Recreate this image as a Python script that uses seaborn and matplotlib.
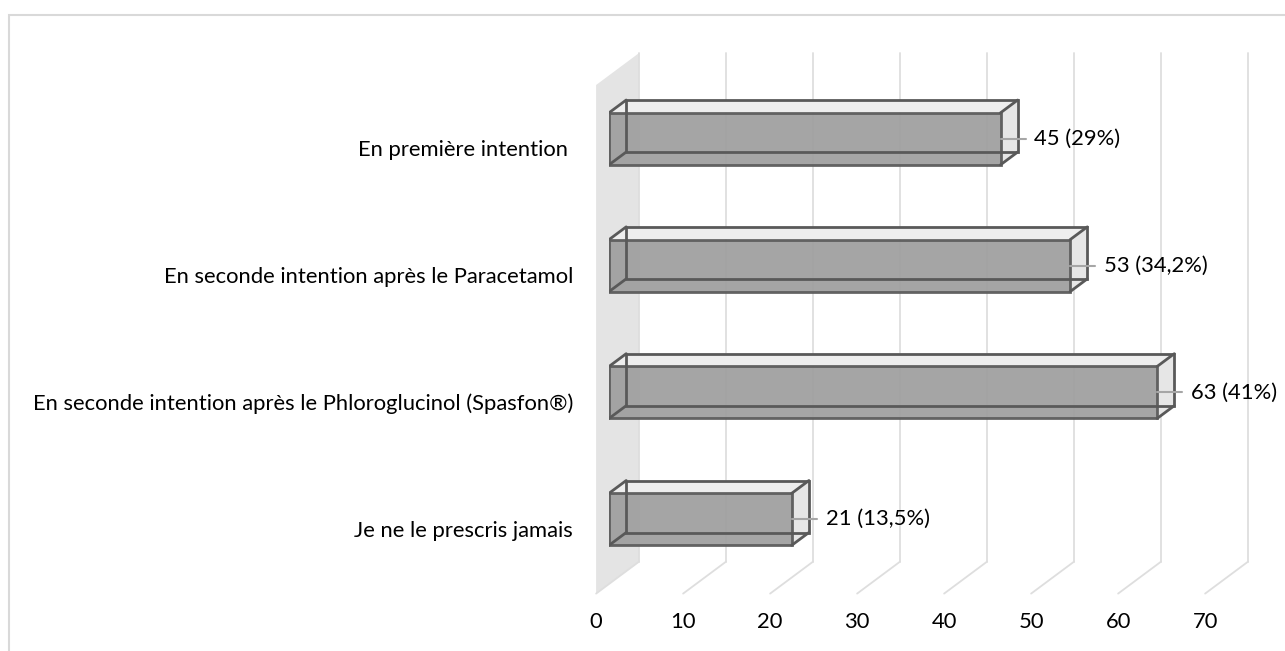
import matplotlib
matplotlib.use("Agg")
import matplotlib.pyplot as plt
import seaborn as sns
import pandas as pd
from matplotlib.patches import Polygon, Rectangle
from matplotlib.transforms import ScaledTranslation

# ---- Data ----
categories = [
    "En première intention ",
    "En seconde intention après le Paracetamol",
    "En seconde intention après le Phloroglucinol (Spasfon®)",
    "Je ne le prescris jamais",
]
counts = [45, 53, 63, 21]
percents = ["29%", "34,2%", "41%", "13,5%"]
xticks = [0, 10, 20, 30, 40, 50, 60, 70]

# ---- Style ----
sns.set_theme(style="white")
plt.rcParams["font.family"] = ["Lato", "DejaVu Sans"]
FS = 15.8

W, H = 1285, 651
fig = plt.figure(figsize=(W / 100, H / 100), dpi=100)
ax = fig.add_axes([609 / W, (H - 584) / H, 609 / W, 508.6 / H])

df = pd.DataFrame({"cat": categories, "n": counts})
sns.barplot(data=df, x="n", y="cat", orient="h", width=0.41, color="#9e9e9e",
            saturation=1, edgecolor="#595959", linewidth=2, alpha=0.92,
            ax=ax, zorder=2)

ax.set_xlim(0, 70)
floor_y, top_y = 3.51, -0.50
ax.set_ylim(floor_y, top_y)
for s in ax.spines.values():
    s.set_visible(False)
ax.set_xlabel("")
ax.set_ylabel("")

# pixel -> data scale, for the fake 3D depth
o = ax.transData.transform((0, 0))
sx = ax.transData.transform((1, 0))[0] - o[0]
sy = ax.transData.transform((0, 1))[1] - o[1]
DX, DY = 43, 32  # full depth in pixels


def off(t):
    return (t - 0.30) * DX / sx, (t - 0.30) * DY / sy


fx, fy = off(0)
bx, by = off(1)

# side wall
ax.add_patch(Polygon([(fx, floor_y + fy), (bx, floor_y + by), (bx, top_y + by), (fx, top_y + fy)],
                     closed=True, facecolor="#e4e4e4", edgecolor="none", clip_on=False, zorder=0.5))

# gridlines on back wall + floor
for k in xticks:
    ax.plot([k + bx, k + bx], [floor_y + by, top_y + by], color="#dedede", lw=1.3,
            clip_on=False, zorder=0.6)
    ax.plot([k + fx, k + bx], [floor_y + fy, floor_y + by], color="#dedede", lw=1.3,
            clip_on=False, zorder=0.6)

# ticks
ax.set_xticks(xticks)
ax.set_xticklabels([str(k) for k in xticks])
ax.tick_params(axis="x", length=0, pad=13, labelsize=FS, labelcolor="black")
ax.tick_params(axis="y", length=0, pad=16.5, labelsize=FS, labelcolor="black")
shift = ScaledTranslation(-12.9 / 100, -9.6 / 100, fig.dpi_scale_trans)
for lab in ax.get_xticklabels() + ax.get_yticklabels():
    lab.set_transform(lab.get_transform() + shift)

# 3D box for each bar
dx, dy = 0.40 * DX / sx, 0.40 * DY / sy
edge = "#595959"
for p, v, pct in zip(ax.patches, counts, percents):
    x0 = p.get_x()
    w = p.get_width()
    yt = p.get_y()
    yb = yt + p.get_height()
    ax.add_patch(Polygon([(x0, yt), (x0 + w, yt), (x0 + w + dx, yt + dy), (x0 + dx, yt + dy)],
                         facecolor="#eeeeee", edgecolor="none", zorder=1.5))
    ax.add_patch(Polygon([(x0 + w, yt), (x0 + w, yb), (x0 + w + dx, yb + dy), (x0 + w + dx, yt + dy)],
                         facecolor="#e6e6e6", edgecolor="none", zorder=1.5))
    ax.add_patch(Polygon([(x0 + dx, yt + dy), (x0 + w + dx, yt + dy),
                          (x0 + w + dx, yb + dy), (x0 + dx, yb + dy)],
                         fill=False, edgecolor=edge, lw=2, zorder=3))
    for cx in (x0, x0 + w):
        for cy in (yt, yb):
            ax.plot([cx, cx + dx], [cy, cy + dy], color=edge, lw=2, zorder=3,
                    solid_capstyle="round")
    yc = yt + p.get_height() / 2
    ax.plot([x0 + w, x0 + w + 25 / sx], [yc, yc], color="#a6a6a6", lw=1.5, zorder=4)
    ax.text(x0 + w + 34 / sx, yc, f"{v} ({pct})", ha="left", va="center",
            fontsize=FS, color="black", zorder=5)

# outer chart border
fig.add_artist(Rectangle((9 / W, -0.1), 1.2, 1 - 15 / H + 0.1, transform=fig.transFigure,
                         fill=False, edgecolor="#d9d9d9", lw=1.5))

fig.savefig("out.png", dpi=100, facecolor="white")
